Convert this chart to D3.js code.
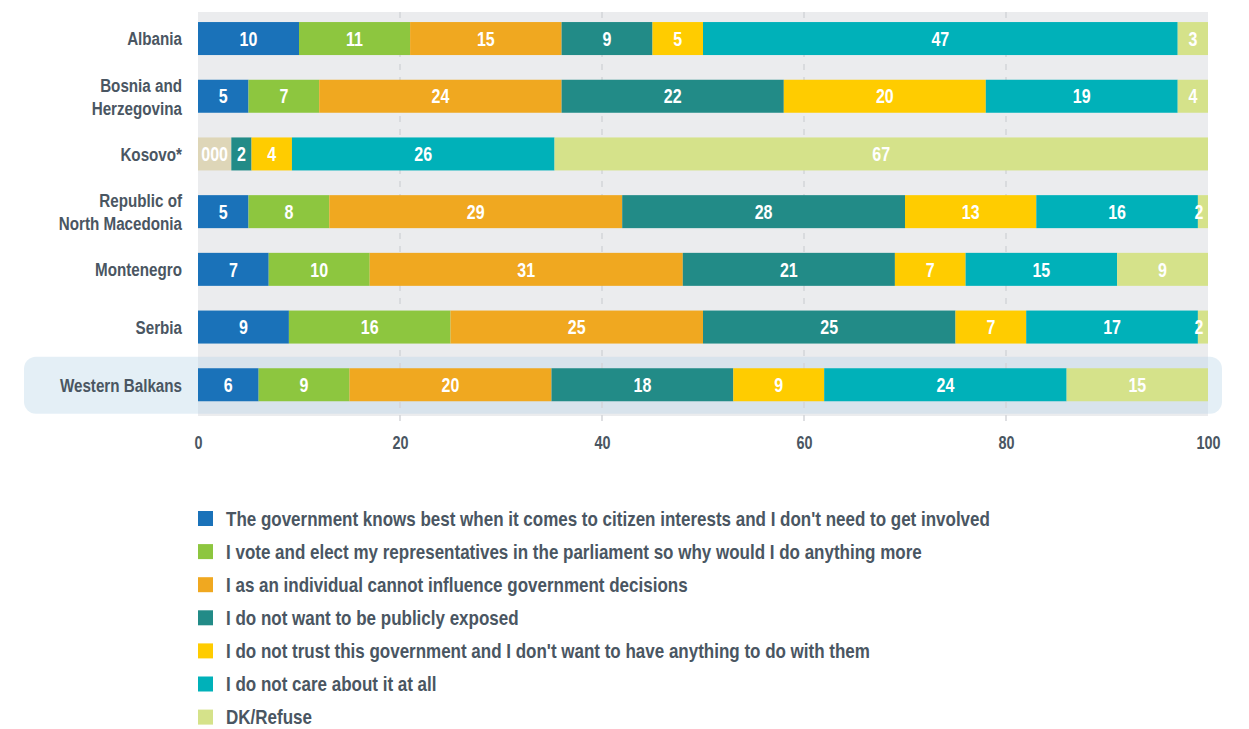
<!DOCTYPE html>
<html>
<head>
<meta charset="utf-8">
<script src="https://cdn.jsdelivr.net/npm/d3@7"></script>
<style>
  html, body { margin: 0; padding: 0; background: #ffffff; }
  svg { display: block; }
  text { font-family: "Liberation Sans", Arial, sans-serif; font-weight: bold; }
</style>
</head>
<body>
<svg id="chart" width="1249" height="729"></svg>
<script>
// Countries (rows), top to bottom
const categories = ["Albania", "Bosnia and Herzegovina", "Kosovo*", "Republic of North Macedonia", "Montenegro", "Serbia", "Western Balkans"];
// Row labels split into lines
const categoryLines = [["Albania"], ["Bosnia and", "Herzegovina"], ["Kosovo*"], ["Republic of", "North Macedonia"], ["Montenegro"], ["Serbia"], ["Western Balkans"]];

// Answer options (legend order)
const seriesNames = [
  "The government knows best when it comes to citizen interests and I don't need to get involved",
  "I vote and elect my representatives in the parliament so why would I do anything more",
  "I as an individual cannot influence government decisions",
  "I do not want to be publicly exposed",
  "I do not trust this government and I don't want to have anything to do with them",
  "I do not care about it at all",
  "DK/Refuse"
];
const seriesColors = ["#1a72b9", "#8dc63f", "#f0a820", "#228b87", "#ffcc00", "#00b1b9", "#d5e28a"];

// Share of respondents (%) per answer, one value per country
const governmentKnowsBest = [10, 5, 0, 5, 7, 9, 6];
const voteIsEnough        = [11, 7, 0, 8, 10, 16, 9];
const cannotInfluence     = [15, 24, 0, 29, 31, 25, 20];
const notExposed          = [9, 22, 2, 28, 21, 25, 18];
const distrustGovernment  = [5, 20, 4, 13, 7, 7, 9];
const doNotCare           = [47, 19, 26, 16, 15, 17, 24];
const dkRefuse            = [3, 4, 67, 2, 9, 2, 15];

// Unlabelled leading share shown in Kosovo's row
const leadingOther = [0, 0, 3.3, 0, 0, 0, 0];
const leadingOtherColor = "#ded6b8";

const seriesValues = [governmentKnowsBest, voteIsEnough, cannotInfluence, notExposed, distrustGovernment, doNotCare, dkRefuse];

const xTicks = [0, 20, 40, 60, 80, 100];
const highlighted = "Western Balkans";

const textColor = "#4a5662";
const narrow = 0.8;        // horizontal squeeze for a condensed look
const legendNarrow = 0.85;
const svg = d3.select("#chart");

const margin = { left: 198, right: 41, top: 12 };
const plotRight = 1249 - margin.right;
const plotBottom = 416;

const x = d3.scaleLinear().domain([0, 100]).range([margin.left, plotRight]);
const y = d3.scaleBand().domain(categories).range([9.7, 9.7 + 57.7 * categories.length]).paddingInner(0.428).paddingOuter(0.214);

// plot background
svg.append("rect")
  .attr("x", x(0)).attr("y", margin.top)
  .attr("width", x(100) - x(0)).attr("height", plotBottom - margin.top)
  .attr("fill", "#ebecee");

// highlight band behind the regional average
svg.append("rect")
  .attr("x", 24).attr("y", y(highlighted) + y.bandwidth() / 2 - 28)
  .attr("width", 1198).attr("height", 57)
  .attr("rx", 12).attr("ry", 12)
  .attr("fill", "rgb(187,215,232)").attr("opacity", 0.4);

// dashed vertical grid
svg.append("g").selectAll("line")
  .data(xTicks.filter(t => t > 0 && t < 100))
  .join("line")
  .attr("x1", d => x(d)).attr("x2", d => x(d))
  .attr("y1", margin.top).attr("y2", 421)
  .attr("stroke", "#d3d5d9").attr("stroke-width", 1.5)
  .attr("stroke-dasharray", "6,7");

// x axis tick labels
const xAxis = d3.axisBottom(x).tickValues(xTicks).tickSize(0).tickPadding(0);
const gx = svg.append("g").attr("transform", `translate(0, ${436})`).call(xAxis);
gx.select(".domain").remove();
gx.selectAll("text")
  .attr("fill", textColor)
  .attr("transform", `scale(${narrow},1)`)
  .style("font-size", "18px")
  .attr("dy", "0.71em");

// clip bars to the 0–100 range
svg.append("clipPath").attr("id", "plot-clip")
  .append("rect").attr("x", x(0)).attr("y", 0).attr("width", x(100) - x(0)).attr("height", plotBottom);

// build stacked segments
const segments = [];
categories.forEach((cat, i) => {
  let acc = 0;
  if (leadingOther[i] > 0) {
    const zeroLabels = seriesValues.map(s => s[i]).filter(v => v === 0).map(String).join("");
    segments.push({ cat, x0: acc, x1: acc + leadingOther[i], color: leadingOtherColor, label: zeroLabels });
    acc += leadingOther[i];
  }
  seriesValues.forEach((s, k) => {
    const v = s[i];
    if (v > 0) {
      segments.push({ cat, x0: acc, x1: acc + v, color: seriesColors[k], label: String(v) });
    }
    acc += v;
  });
});

const bars = svg.append("g").attr("clip-path", "url(#plot-clip)");
bars.selectAll("rect")
  .data(segments)
  .join("rect")
  .attr("x", d => x(d.x0))
  .attr("y", d => y(d.cat))
  .attr("width", d => x(d.x1) - x(d.x0))
  .attr("height", y.bandwidth())
  .attr("fill", d => d.color);

svg.append("g").selectAll("g")
  .data(segments)
  .join("g")
  .attr("transform", d => {
    const cx = Math.min((x(d.x0) + Math.min(x(d.x1), x(100))) / 2, x(100) - 9);
    return `translate(${cx}, ${y(d.cat) + y.bandwidth() / 2}) scale(${narrow},1)`;
  })
  .append("text")
  .attr("dy", "0.36em")
  .attr("text-anchor", "middle")
  .attr("fill", "#ffffff")
  .style("font-size", "20px")
  .text(d => d.label);

// row labels
const rowLabels = svg.append("g");
categories.forEach((cat, i) => {
  const lines = categoryLines[i];
  const cy = y(cat) + y.bandwidth() / 2;
  const lineH = 23;
  const t = rowLabels.append("g")
    .attr("transform", `translate(182, ${cy}) scale(${narrow},1)`)
    .append("text")
    .attr("text-anchor", "end")
    .attr("fill", textColor)
    .style("font-size", "19px");
  lines.forEach((ln, j) => {
    t.append("tspan")
      .attr("x", 0)
      .attr("y", (j - (lines.length - 1) / 2) * lineH)
      .attr("dy", "0.36em")
      .text(ln);
  });
});

// legend
const legend = svg.append("g").selectAll("g")
  .data(seriesNames)
  .join("g")
  .attr("transform", (d, i) => `translate(198, ${518.5 + i * 33.1})`);
legend.append("rect")
  .attr("x", 0).attr("y", -7.5)
  .attr("width", 15).attr("height", 15)
  .attr("fill", (d, i) => seriesColors[i]);
legend.append("g")
  .attr("transform", `translate(28, 0) scale(${legendNarrow},1)`)
  .append("text")
  .attr("dy", "0.36em")
  .attr("fill", textColor)
  .style("font-size", "20px")
  .text(d => d);
</script>
</body>
</html>
